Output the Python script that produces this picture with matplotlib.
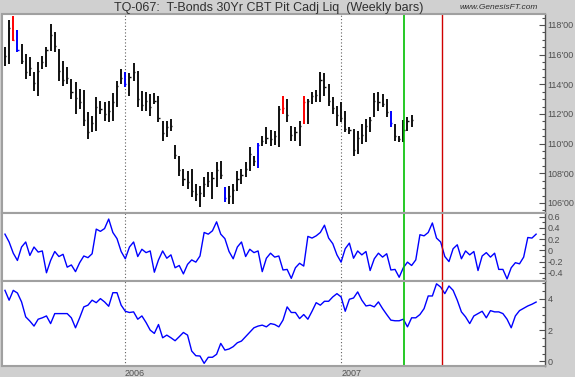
import numpy as np
import pandas as pd
import matplotlib
matplotlib.use("Agg")
import matplotlib.pyplot as plt
import matplotlib.dates as mdates
from matplotlib.ticker import MultipleLocator, FuncFormatter

plt.rcParams['font.family'] = ['Liberation Sans', 'DejaVu Sans']

# weekly bars, T-Bonds (prices in points)
highs = [116.49, 118.34, 118.63, 117.66, 116.72, 116.04, 115.82, 114.81, 115.48, 115.93,
         116.49, 118.07, 117.50, 116.38, 115.59, 115.15, 114.36, 114.13, 113.68, 113.62,
         112.11, 111.89, 113.12, 112.90, 112.78, 112.85, 113.39, 114.25, 115.03, 114.85,
         114.74, 115.41, 114.92, 113.57, 113.46, 113.35, 113.39, 113.23, 111.55, 111.55,
         111.66, 109.90, 109.19, 108.29, 108.18, 108.29, 107.28, 107.17, 107.73, 108.07,
         108.07, 108.74, 108.85, 107.10, 107.17, 107.28, 108.18, 108.29, 108.74, 109.75,
         109.19, 110.02, 110.54, 111.10, 110.92, 110.83, 112.56, 113.23, 113.01, 111.21,
         111.10, 111.55, 113.23, 113.01, 113.46, 113.62, 114.81, 114.74, 114.02, 113.12,
         112.56, 112.78, 112.22, 111.14, 110.99, 110.87, 111.33, 111.66, 111.77, 113.39,
         113.46, 113.35, 113.01, 112.22, 111.33, 110.54, 111.59, 111.77, 111.93]
lows = [115.26, 115.37, 116.94, 116.16, 115.37, 114.36, 114.58, 113.57, 113.23, 115.03,
        115.15, 116.27, 116.16, 114.25, 113.91, 114.02, 113.01, 112.00, 112.34, 111.21,
        110.31, 110.76, 110.87, 112.00, 111.55, 111.44, 111.55, 112.45, 114.02, 113.84,
        113.23, 114.25, 112.45, 112.22, 112.22, 111.89, 112.67, 111.44, 110.20, 110.43,
        110.87, 108.95, 107.84, 107.17, 106.94, 106.38, 106.16, 105.71, 106.38, 107.06,
        106.27, 107.06, 107.62, 106.04, 105.93, 105.93, 106.83, 107.28, 107.73, 108.18,
        108.52, 108.36, 109.86, 109.98, 109.86, 109.93, 109.75, 112.00, 111.44, 110.20,
        110.20, 109.86, 111.33, 111.33, 112.67, 112.78, 112.78, 113.23, 112.56, 112.00,
        111.21, 111.44, 110.76, 110.65, 109.19, 109.30, 109.98, 110.09, 110.76, 111.77,
        112.22, 112.45, 111.77, 111.10, 110.20, 110.09, 110.09, 110.87, 111.10]
closes = [115.9, 117.8, 117.0, 116.3, 115.6, 114.8, 115.1, 114.1, 114.9, 115.5,
          116.3, 117.3, 116.6, 114.9, 114.3, 114.4, 113.5, 113.1, 112.8, 111.6,
          110.8, 111.4, 112.5, 112.3, 112.0, 112.2, 112.8, 113.9, 114.4, 114.0,
          114.5, 114.8, 113.0, 112.6, 112.9, 112.5, 112.9, 111.7, 110.7, 111.1,
          111.2, 109.2, 108.2, 107.6, 107.4, 106.8, 106.6, 106.7, 107.3, 107.5,
          107.7, 108.2, 107.9, 106.3, 106.5, 106.9, 107.6, 107.9, 108.3, 109.3,
          108.8, 109.9, 110.2, 110.4, 110.3, 110.5, 112.3, 112.4, 111.9, 110.6,
          110.8, 111.2, 112.8, 112.9, 113.2, 113.3, 114.3, 113.8, 112.9, 112.4,
          111.9, 111.7, 111.0, 110.9, 109.6, 110.4, 110.6, 111.2, 111.6, 112.9,
          112.8, 112.7, 112.1, 111.4, 110.5, 110.3, 110.9, 111.5, 111.6]
red_bars = [2, 67, 72]
blue_bars = [3, 29, 53, 61, 93]

# oscillator (middle panel) and cycle line (bottom panel), one value per week
osc = [0.29, 0.15, -0.05, -0.18, 0.06, 0.15, -0.09, 0.06, -0.03, -0.01,
       -0.40, -0.18, -0.02, -0.11, -0.07, -0.30, -0.26, -0.38, -0.22, -0.10,
       -0.13, -0.06, 0.38, 0.34, 0.39, 0.56, 0.32, 0.21, -0.02, -0.15,
       0.06, 0.15, -0.11, 0.02, -0.04, -0.01, -0.39, -0.17, -0.01, -0.14,
       -0.08, -0.31, -0.27, -0.42, -0.25, -0.17, -0.21, -0.10, 0.32, 0.29,
       0.35, 0.51, 0.29, 0.21, -0.02, -0.15, 0.06, 0.15, -0.11, 0.02,
       -0.04, -0.01, -0.38, -0.14, -0.05, -0.12, -0.10, -0.35, -0.34, -0.50,
       -0.31, -0.23, -0.28, 0.25, 0.22, 0.26, 0.32, 0.45, 0.22, 0.12,
       -0.08, -0.21, 0.03, 0.13, -0.14, -0.01, -0.08, -0.02, -0.36, -0.15,
       -0.05, -0.12, -0.06, -0.35, -0.34, -0.48, -0.31, -0.21, -0.27, -0.17,
       0.28, 0.26, 0.32, 0.49, 0.22, 0.15, -0.11, -0.20, 0.03, 0.10,
       -0.15, -0.01, -0.08, -0.02, -0.36, -0.10, -0.04, -0.12, -0.05, -0.34,
       -0.34, -0.51, -0.31, -0.22, -0.24, -0.12, 0.23, 0.22, 0.29]
cycle = [4.55, 3.92, 4.55, 4.38, 3.81, 2.85, 2.58, 2.26, 2.70, 2.79,
         2.91, 2.42, 3.06, 3.06, 3.06, 3.06, 2.79, 2.15, 2.79, 3.49,
         3.60, 3.92, 3.76, 4.02, 3.81, 3.53, 4.40, 4.40, 3.60, 3.21,
         3.13, 3.17, 2.70, 2.91, 2.49, 2.00, 1.79, 2.36, 1.51, 1.68,
         1.51, 1.32, 1.58, 1.85, 1.68, 0.66, 0.36, 0.34, -0.13, 0.26,
         0.26, 0.45, 1.15, 0.72, 0.79, 0.94, 1.19, 1.30, 1.58, 1.85,
         2.15, 2.26, 2.32, 2.21, 2.42, 2.36, 2.21, 2.64, 3.49, 3.13,
         3.13, 2.74, 3.00, 2.70, 3.21, 3.76, 3.60, 3.85, 3.85, 4.13,
         4.34, 4.13, 3.21, 3.98, 4.06, 4.45, 3.92, 3.55, 3.60, 3.49,
         3.81, 3.38, 3.00, 2.64, 2.60, 2.60, 2.70, 2.21, 2.79, 2.79,
         3.00, 3.38, 4.19, 4.19, 4.97, 4.76, 4.34, 4.83, 4.55, 3.92,
         3.17, 2.85, 2.42, 2.91, 3.06, 3.21, 2.79, 3.25, 3.17, 3.17,
         3.06, 2.70, 2.15, 2.91, 3.25, 3.40, 3.55, 3.66, 3.80]

weeks = pd.date_range('2005-06-13', periods=len(osc), freq='7D')
bar_dates = weeks[:len(highs)]
green_date = pd.Timestamp('2007-04-17')
red_date = pd.Timestamp('2007-06-21')

bg = '#d0d0d0'
fig = plt.figure(figsize=(5.75, 3.77), dpi=100, facecolor=bg)
L, R = 2 / 575, 545 / 575
def fy(px):
    return 1 - px / 377
ax1 = fig.add_axes([L, fy(213), R - L, fy(14) - fy(213)])
ax2 = fig.add_axes([L, fy(281), R - L, fy(213) - fy(281)], sharex=ax1)
ax3 = fig.add_axes([L, fy(366), R - L, fy(281) - fy(366)], sharex=ax1)

colors = []
for i in range(len(highs)):
    if i in red_bars:
        colors.append('#ff0000')
    elif i in blue_bars:
        colors.append('#0000ff')
    else:
        colors.append('#111111')
ax1.vlines(bar_dates, lows, highs, colors=colors, lw=1.4)
ax1.hlines(closes, bar_dates, bar_dates + pd.Timedelta(days=2), colors=colors, lw=1.0)

ax2.plot(weeks, osc, color='#0000ff', lw=1.0)
ax3.plot(weeks, cycle, color='#0000ff', lw=1.0)

ax1.set_ylim(105.32, 118.74)
ax2.set_ylim(-0.547, 0.668)
ax3.set_ylim(-0.30, 5.15)
ax1.set_xlim(weeks[0] - pd.Timedelta(days=5), weeks[0] + pd.Timedelta(days=911))

def price_fmt(v, pos):
    return "%d'00" % round(v)

ax1.yaxis.set_major_locator(MultipleLocator(2))
ax1.yaxis.set_minor_locator(MultipleLocator(0.5))
ax1.yaxis.set_major_formatter(FuncFormatter(price_fmt))
ax2.yaxis.set_major_locator(MultipleLocator(0.2))
ax2.yaxis.set_minor_locator(MultipleLocator(0.1))
ax2.yaxis.set_major_formatter(FuncFormatter(lambda v, p: '0' if abs(v) < 1e-9 else ('%.1f' % v)))
ax3.yaxis.set_major_locator(MultipleLocator(2))
ax3.yaxis.set_minor_locator(MultipleLocator(0.5))

for ax in (ax1, ax2, ax3):
    ax.set_facecolor('white')
    ax.yaxis.tick_right()
    ax.tick_params(axis='y', which='major', direction='in', length=4, width=0.8,
                   labelsize=6.5, labelcolor='#505050', color='#505050', pad=2)
    ax.tick_params(axis='y', which='minor', direction='in', length=2, width=0.8, color='#505050')
    ax.tick_params(axis='x', which='both', length=0, labelsize=6.5, labelcolor='#505050', pad=2)
    for s in ('top', 'bottom', 'left'):
        ax.spines[s].set_color('#a0a0a0')
        ax.spines[s].set_linestyle((0, (1, 1)))
        ax.spines[s].set_linewidth(1.5)
    ax.spines['right'].set_color('#505050')
    ax.spines['right'].set_linewidth(1.0)
    ax.xaxis.set_major_locator(mdates.YearLocator())
    ax.xaxis.set_major_formatter(mdates.DateFormatter('%Y'))
    ax.grid(axis='x', color='#606060', linestyle=(0, (1, 2)), lw=0.8)
    ax.axvline(green_date, color='#00c000', lw=1.2)
    ax.axvline(red_date, color='#d00000', lw=1.0)

ax1.tick_params(axis='x', labelbottom=False)
ax2.tick_params(axis='x', labelbottom=False)
for lab in ax3.get_xticklabels():
    lab.set_horizontalalignment('left')

fig.text(0.468, 0.978, 'TQ-067:  T-Bonds 30Yr CBT Pit Cadj Liq  (Weekly bars)',
         ha='center', va='center', fontsize=9, color='#303030')
fig.text(0.868, 0.979, 'www.GenesisFT.com', ha='center', va='center',
         fontsize=6, style='italic', color='#303030')

fig.savefig('out.png', dpi=100, facecolor=bg)
